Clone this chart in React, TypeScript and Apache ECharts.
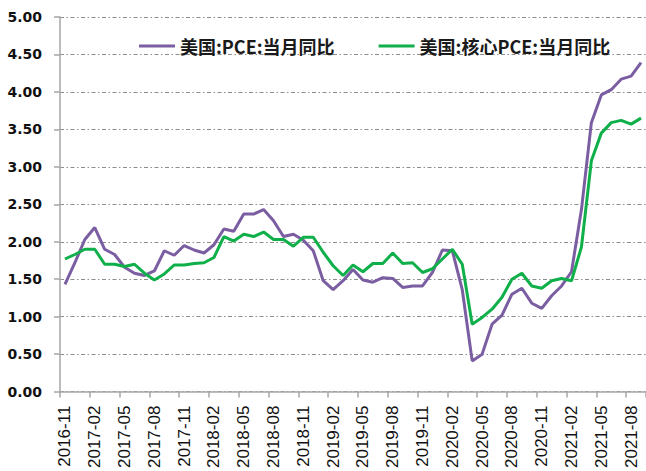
import React, { useEffect, useRef } from "react";
import * as echarts from "echarts";

const categories: string[] = [
  "2016-11", "2016-12",
  "2017-01", "2017-02", "2017-03", "2017-04", "2017-05", "2017-06", "2017-07", "2017-08", "2017-09", "2017-10", "2017-11", "2017-12",
  "2018-01", "2018-02", "2018-03", "2018-04", "2018-05", "2018-06", "2018-07", "2018-08", "2018-09", "2018-10", "2018-11", "2018-12",
  "2019-01", "2019-02", "2019-03", "2019-04", "2019-05", "2019-06", "2019-07", "2019-08", "2019-09", "2019-10", "2019-11", "2019-12",
  "2020-01", "2020-02", "2020-03", "2020-04", "2020-05", "2020-06", "2020-07", "2020-08", "2020-09", "2020-10", "2020-11", "2020-12",
  "2021-01", "2021-02", "2021-03", "2021-04", "2021-05", "2021-06", "2021-07", "2021-08", "2021-09",
];

const pceName = "美国:PCE:当月同比";
const corePceName = "美国:核心PCE:当月同比";

const pce: number[] = [
  1.43, 1.72,
  2.03, 2.19, 1.90, 1.83, 1.66, 1.58, 1.55, 1.61, 1.88, 1.82, 1.95, 1.89,
  1.85, 1.96, 2.17, 2.14, 2.37, 2.37, 2.43, 2.28, 2.07, 2.10, 2.02, 1.88,
  1.48, 1.36, 1.48, 1.63, 1.49, 1.46, 1.52, 1.51, 1.39, 1.41, 1.41, 1.59,
  1.89, 1.88, 1.36, 0.41, 0.50, 0.90, 1.02, 1.30, 1.38, 1.18, 1.11, 1.28,
  1.41, 1.60, 2.43, 3.59, 3.96, 4.03, 4.17, 4.21, 4.39,
];

const corePce: number[] = [
  1.77, 1.83,
  1.90, 1.90, 1.70, 1.70, 1.67, 1.70, 1.58, 1.49, 1.57, 1.69, 1.69, 1.71,
  1.72, 1.79, 2.07, 2.01, 2.10, 2.07, 2.13, 2.03, 2.03, 1.94, 2.06, 2.06,
  1.86, 1.68, 1.55, 1.69, 1.60, 1.71, 1.71, 1.85, 1.71, 1.72, 1.59, 1.64,
  1.77, 1.90, 1.70, 0.90, 0.99, 1.10, 1.26, 1.50, 1.58, 1.41, 1.38, 1.48,
  1.51, 1.48, 1.93, 3.08, 3.45, 3.59, 3.62, 3.57, 3.65,
];

const yMin = 0;
const yMax = 5;
const yInterval = 0.5;

export default function App() {
  const ref = useRef<HTMLDivElement>(null);

  useEffect(() => {
    if (!ref.current) return;
    const chart = echarts.init(ref.current, null, { renderer: "svg" });
    const axisGray = "#a6a6a6";
    const purple = "#7b5ea2";
    const green = "#0fb04a";
    chart.setOption({
      animation: false,
      backgroundColor: "#ffffff",
      legend: {
        top: 32,
        left: 134,
        itemWidth: 36,
        itemHeight: 3,
        itemGap: 44,
        icon: "rect",
        data: [pceName, corePceName],
        textStyle: {
          fontFamily: "Noto Sans CJK SC",
          fontWeight: "bold",
          fontSize: 18,
          color: "#1a1a1a",
        },
      },
      grid: {
        left: 60,
        right: 0,
        top: 17,
        bottom: 78,
        containLabel: false,
      },
      xAxis: {
        type: "category",
        data: categories,
        boundaryGap: true,
        axisLine: { show: true, lineStyle: { color: axisGray, width: 1.5 } },
        axisTick: {
          show: true,
          interval: 2,
          alignWithLabel: false,
          length: 6,
          lineStyle: { color: axisGray, width: 1.5 },
        },
        axisLabel: {
          interval: 2,
          rotate: 90,
          margin: 14,
          fontFamily: "Liberation Sans",
          fontSize: 17,
          color: "#111",
        },
        splitLine: { show: false },
      },
      yAxis: {
        type: "value",
        min: yMin,
        max: yMax,
        interval: yInterval,
        axisLine: { show: true, lineStyle: { color: axisGray, width: 1.5 } },
        axisTick: { show: true, length: 6, lineStyle: { color: axisGray, width: 1.5 } },
        axisLabel: {
          margin: 18,
          fontFamily: "DejaVu Sans",
          fontWeight: "bold",
          fontSize: 14,
          color: "#111",
          formatter: (v: number) => v.toFixed(2),
        },
        splitLine: {
          show: true,
          lineStyle: { color: "#8c8c8c", width: 1, type: [4, 2.5, 1.5, 2.5] },
        },
      },
      series: [
        {
          name: pceName,
          type: "line",
          data: pce,
          symbol: "none",
          smooth: false,
          lineStyle: { color: purple, width: 3 },
          itemStyle: { color: purple },
          z: 3,
        },
        {
          name: corePceName,
          type: "line",
          data: corePce,
          symbol: "none",
          smooth: false,
          lineStyle: { color: green, width: 3 },
          itemStyle: { color: green },
          z: 4,
        },
      ],
    });
    return () => chart.dispose();
  }, []);

  return <div ref={ref} style={{ width: 646, height: 471, position: "absolute", left: 0, top: 0 }} />;
}
